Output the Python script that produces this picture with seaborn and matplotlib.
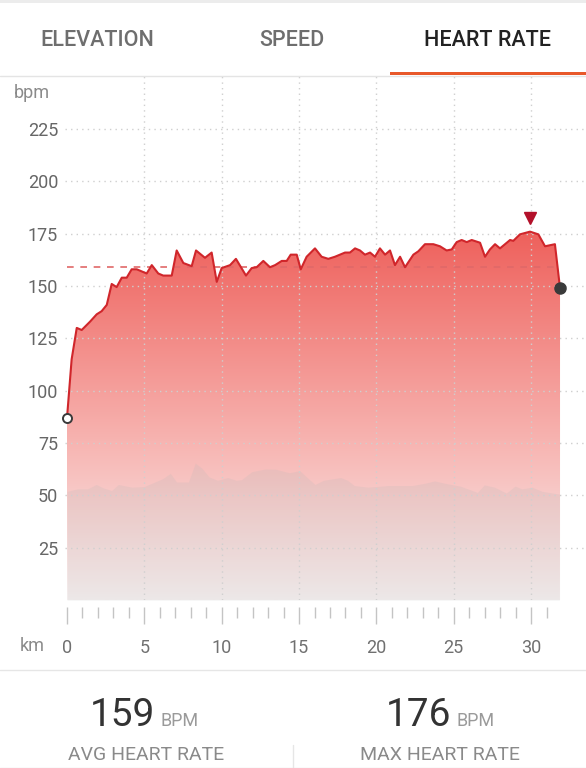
import numpy as np
import pandas as pd
import matplotlib
matplotlib.use('Agg')
import matplotlib.pyplot as plt
import seaborn as sns
from matplotlib.colors import LinearSegmentedColormap
from matplotlib.lines import Line2D
from matplotlib.patches import Rectangle

# heart rate along the route (km, bpm)
km_hr = [0.0, 0.3, 0.63, 0.95, 1.49, 1.92, 2.24, 2.57, 2.89, 3.21,
         3.54, 3.86, 4.18, 4.51, 5.15, 5.48, 5.9, 6.22, 6.77, 7.09,
         7.52, 8.06, 8.34, 8.92, 9.35, 9.68, 10.0, 10.54, 10.92, 11.57,
         11.94, 12.26, 12.69, 13.12, 13.45, 13.88, 14.2, 14.46, 14.85, 15.11,
         15.49, 16.03, 16.46, 16.89, 17.32, 17.97, 18.29, 18.62, 18.94, 19.26,
         19.59, 19.91, 20.23, 20.56, 20.88, 21.2, 21.53, 21.85, 22.39, 22.71,
         23.14, 23.68, 24.11, 24.54, 24.87, 25.19, 25.51, 25.84, 26.16, 26.7,
         27.02, 27.34, 27.67, 27.99, 28.64, 28.85, 29.28, 29.93, 30.47, 30.9,
         31.54, 31.87]
bpm = [87, 115, 130, 129, 133, 136.5, 138, 141, 151, 149.5,
       154, 154, 158, 158, 156, 160, 156, 155, 155, 167,
       161, 159.5, 167, 163.5, 166, 152, 158.6, 160, 163, 155,
       158.6, 159, 162, 159, 160, 162, 162, 165, 165, 158,
       164, 168, 164, 163, 164, 166, 166, 168, 167, 165,
       166, 164, 168, 165, 167, 160, 164, 159, 165, 166.6,
       170, 170, 169, 167, 167.5, 171, 172, 171, 172, 170.7,
       164, 167.5, 170, 168, 172, 171.6, 174.7, 176, 174.7, 169,
       170, 149]

# elevation profile shown as a shadow (in chart units)
km_elev = [0.0, 0.67, 1.33, 1.89, 2.33, 2.88, 3.32, 3.65, 4.2, 4.98,
           5.53, 6.19, 6.68, 7.08, 7.85, 8.29, 8.73, 9.18, 9.73, 10.39,
           10.94, 11.28, 11.94, 12.82, 13.48, 14.37, 15.04, 15.48, 16.03, 16.58,
           17.69, 18.13, 18.57, 19.45, 20.78, 22.33, 23.21, 23.76, 24.54, 25.42,
           26.53, 26.97, 27.63, 28.4, 28.96, 29.4, 30.06, 30.72, 31.83]
elev = [51.9, 53.1, 53.1, 55.2, 53.6, 52.3, 55.2, 54.7, 53.9, 54.2,
        55.9, 58.0, 60.5, 56.4, 56.4, 65.4, 62.9, 58.8, 57.2, 58.5,
        57.2, 57.5, 61.3, 62.6, 62.5, 60.8, 61.8, 58.8, 55.2, 57.2,
        58.5, 57.2, 54.7, 53.9, 54.7, 54.7, 55.9, 56.9, 55.6, 54.4,
        51.4, 55.0, 53.9, 51.1, 54.4, 53.1, 53.9, 51.9, 50.6]

avg_hr = 159
max_hr = 176
y_ticks = [25, 50, 75, 100, 125, 150, 175, 200, 225]
x_ticks = [0, 5, 10, 15, 20, 25, 30]
tabs = ['ELEVATION', 'SPEED', 'HEART RATE']

df = pd.DataFrame({'km': km_hr, 'bpm': bpm})

sns.set_style('white')
plt.rcParams['font.family'] = ['Roboto', 'DejaVu Sans']

W, H = 586, 768
fig = plt.figure(figsize=(W / 100, H / 100), dpi=100)
fig.patch.set_facecolor('white')

# axes in pixel layout
ax_l, ax_r, ax_t, ax_b = 65, 586, 76, 600
ax = fig.add_axes([ax_l / W, 1 - ax_b / H, (ax_r - ax_l) / W, (ax_b - ax_t) / H])
px_per_km = 15.47
px_per_bpm = 2.093
xmin = (ax_l - 67) / px_per_km
xmax = (ax_r - 67) / px_per_km
ymax = (ax_b - ax_t) / px_per_bpm

# gradient fill under the heart-rate line
cmap = LinearSegmentedColormap.from_list(
    'hr', [(0.0, '#faf4f4'), (0.42, '#f7b4b1'), (1.0, '#ee5d58')])
poly = ax.fill_between(df['km'], df['bpm'], 0, color='none', lw=0)
grad = np.linspace(0, 1, 256).reshape(-1, 1)
im = ax.imshow(grad, extent=[xmin, xmax, 0, 180], origin='lower',
               aspect='auto', cmap=cmap, zorder=1)
im.set_clip_path(poly.get_paths()[0], transform=ax.transData)

# elevation shadow
ax.fill_between(km_elev, elev, 0, color='#b8b8b8', alpha=0.2, lw=0, zorder=2)

# grid
for v in y_ticks:
    ax.axhline(v, color='#cfcfcf', lw=1, ls=(0, (1, 3)), zorder=3)
for v in x_ticks[1:]:
    ax.axvline(v, color='#cfcfcf', lw=1, ls=(0, (1, 3)), zorder=3)

# average line
ax.hlines(avg_hr, 0, km_hr[-2], color='#e06868', lw=1.2, ls=(0, (4, 4)), zorder=4)

sns.lineplot(data=df, x='km', y='bpm', ax=ax, color='#d0262b', lw=1.5,
             estimator=None, sort=False, zorder=5)

ax.plot(km_hr[0], bpm[0], 'o', mfc='white', mec='#3a3a3a', ms=6.5, mew=1.4,
        zorder=6, clip_on=False)
ax.plot(km_hr[-1], bpm[-1], 'o', color='#3a3a3a', ms=8, zorder=6, clip_on=False)
i_max = int(np.argmax(bpm))
ax.plot(km_hr[i_max], max_hr + 6.5, 'v', color='#b3112a', ms=8.5, zorder=6)

ax.set_xlim(xmin, xmax)
ax.set_ylim(0, ymax)
ax.set_xlabel('')
ax.set_ylabel('')
for s in ax.spines.values():
    s.set_visible(False)
ax.spines['bottom'].set_position(('outward', 5))

ax.set_yticks(y_ticks)
ax.set_yticklabels([str(v) for v in y_ticks])
ax.tick_params(axis='y', length=0, pad=5, labelsize=13, labelcolor='#666666')
ax.set_xticks(x_ticks)
ax.set_xticklabels([str(v) for v in x_ticks])
ax.set_xticks(np.arange(0, 32, 1), minor=True)
ax.tick_params(axis='x', which='major', length=12, width=1, color='#c4c4c4',
               direction='out', pad=11, labelsize=13, labelcolor='#707070', bottom=True)
ax.tick_params(axis='x', which='minor', length=8, width=1, color='#c4c4c4',
               direction='out', bottom=True)

fig.text(14 / W, 1 - 93 / H, 'bpm', ha='left', va='center', fontsize=13, color='#8a8a8a')
fig.text(20 / W, 1 - 646 / H, 'km', ha='left', va='center', fontsize=13, color='#8a8a8a')

# tab header
fig.add_artist(Rectangle((0, 1 - 3 / H), 1, 3 / H, transform=fig.transFigure,
                         color='#ececec', lw=0))
fig.add_artist(Line2D([0, 1], [1 - 75.5 / H] * 2, transform=fig.transFigure,
                      color='#e4e4e4', lw=1))
fig.add_artist(Rectangle((390 / W, 1 - 75 / H), (586 - 390) / W, 3.5 / H,
                         transform=fig.transFigure, color='#e8582a', lw=0))
tab_x = [97, 292, 488]
tab_c = ['#6e6e6e', '#6e6e6e', '#222222']
for t, x, c in zip(tabs, tab_x, tab_c):
    fig.text(x / W, 1 - 46 / H, t, ha='center', va='baseline', fontsize=15.5,
             color=c, fontweight='medium')

# summary footer
fig.add_artist(Line2D([0, 1], [1 - 670 / H] * 2, transform=fig.transFigure,
                      color='#e6e6e6', lw=1))
fig.add_artist(Line2D([293 / W] * 2, [0, 1 - 745 / H], transform=fig.transFigure,
                      color='#e6e6e6', lw=1))
fig.add_artist(Line2D([0, 1], [0.5 / H] * 2, transform=fig.transFigure,
                      color='#e6e6e6', lw=1))
for val, xr, xc, lab in [(avg_hr, 155, 146, 'AVG HEART RATE'),
                         (max_hr, 451, 440, 'MAX HEART RATE')]:
    fig.text(xr / W, 1 - 726 / H, str(val), ha='right', va='baseline',
             fontsize=28, color='#333333')
    fig.text((xr + 5) / W, 1 - 726 / H, 'BPM', ha='left', va='baseline',
             fontsize=13, color='#9a9a9a')
    fig.text(xc / W, 1 - 759.5 / H, lab, ha='center', va='baseline',
             fontsize=14, color='#8a8a8a')

fig.savefig('out.png', dpi=100, facecolor='white')
